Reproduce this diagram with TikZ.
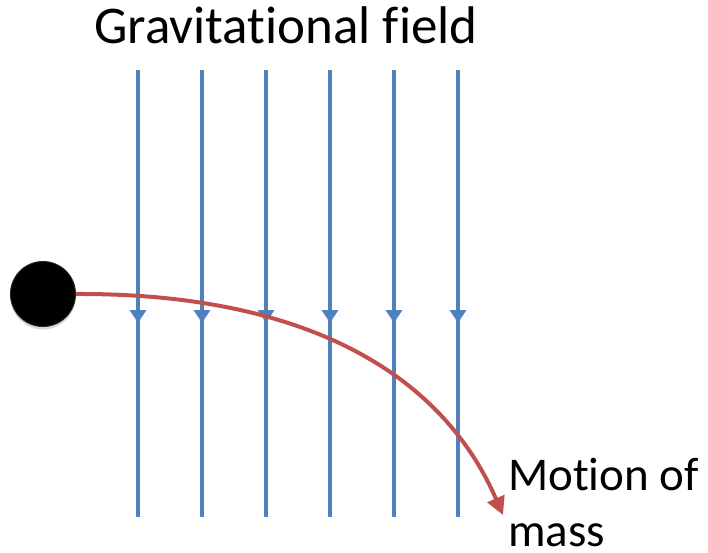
\documentclass[tikz,border=0pt]{standalone}
\usepackage{fontspec}
\setmainfont[Ligatures=NoCommon]{Carlito}
\usepackage{xcolor}
\usetikzlibrary{arrows.meta, positioning, shadows}

\definecolor{fieldblue}{RGB}{79,129,189}
\definecolor{pathred}{RGB}{192,80,77}

\begin{document}
\begin{tikzpicture}[
    x=1pt, y=-1pt,
    fieldline/.style={fieldblue, line width=4pt},
    fieldarrow/.style={fieldline, -{Triangle[length=13pt, width=16pt]}},
    motion/.style={pathred, line width=4pt, -{Triangle[length=18pt, width=18pt]}},
    label/.style={inner sep=0pt},
]
\useasboundingbox (0,0) rectangle (708,553);

% Title
\node[label, font=\fontsize{53}{60}\selectfont, anchor=base] (title) at (286,44) {Gravitational field};

% Field lines
\foreach \x in {138,202,266,330,394,458} {
    \draw[fieldarrow] (\x,70) -- (\x,323);
    \draw[fieldline] (\x,318) -- (\x,517);
}

% Mass
\node[circle, fill=black, draw=black!85, line width=1pt, minimum size=65pt, inner sep=0pt,
      drop shadow={opacity=0.3, shadow xshift=0pt, shadow yshift=-3pt}] (ball) at (43,294) {};

% Trajectory
\coordinate (endpt) at (503,515);
\draw[motion] (ball.east) .. controls (300,293) and (440,370) .. (endpt);

% Label
\node[label, font=\fontsize{47}{56.5}\selectfont, anchor=base west, align=left] (mass) at (508,546.5) {Motion of\\mass};

\end{tikzpicture}
\end{document}
